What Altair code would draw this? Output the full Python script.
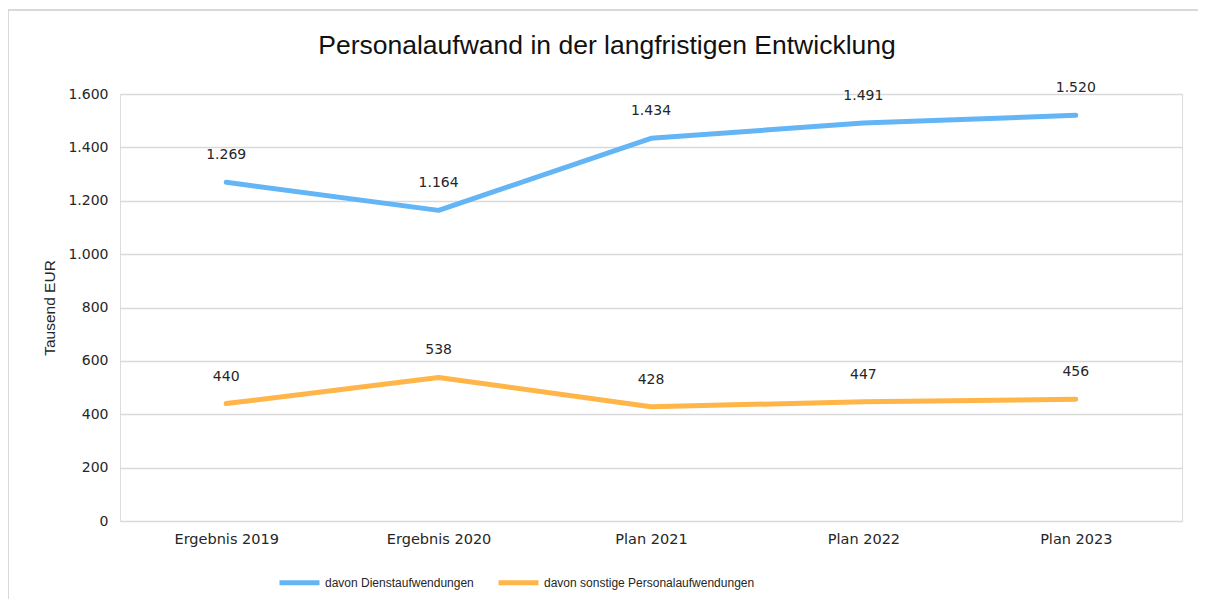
import altair as alt
import pandas as pd

categories = ["Ergebnis 2019", "Ergebnis 2020", "Plan 2021", "Plan 2022", "Plan 2023"]
dienst = [1269, 1164, 1434, 1491, 1520]
sonstige = [440, 538, 428, 447, 456]
series_names = ["davon Dienstaufwendungen", "davon sonstige Personalaufwendungen"]
colors = ["#63b5f6", "#ffb548"]
y_ticks = [0, 200, 400, 600, 800, 1000, 1200, 1400, 1600]

rows = []
for s, vals in zip(series_names, [dienst, sonstige]):
    for c, v in zip(categories, vals):
        rows.append({"Kategorie": c, "Serie": s, "Wert": v})
df = pd.DataFrame(rows)

FONT = "Liberation Sans"
NUMFONT = "DejaVu Sans"
TXT = "#262626"
W, H = 1062, 427

x = alt.X(
    "Kategorie:N",
    sort=categories,
    scale=alt.Scale(type="point", padding=0.5),
    axis=alt.Axis(title=None, labelAngle=0, domain=False, ticks=False, grid=False,
                  labelPadding=11, labelFontSize=14.5, labelColor=TXT, labelFont=NUMFONT),
)
y = alt.Y(
    "Wert:Q",
    scale=alt.Scale(domain=[0, 1600], nice=False),
    axis=alt.Axis(values=y_ticks, title="Tausend EUR",
                  labelExpr="replace(format(datum.value, ','), ',', '.')",
                  domain=False, ticks=False, gridColor="#d9d9d9", gridWidth=1.5,
                  labelPadding=12, labelFontSize=14, labelColor=TXT, labelFont=NUMFONT,
                  titleFont=FONT, titleFontSize=15.5, titleFontWeight="normal",
                  titleColor=TXT, titlePadding=10),
)
color = alt.Color(
    "Serie:N",
    sort=series_names,
    scale=alt.Scale(domain=series_names, range=colors),
    legend=alt.Legend(title=None, orient="none", legendX=157, legendY=466, direction="horizontal",
                      symbolType="stroke", symbolSize=1600, symbolStrokeWidth=5,
                      labelFontSize=12, labelFont=FONT, labelColor=TXT, labelLimit=0,
                      labelOffset=3, columnPadding=14),
)

border_top = alt.Chart(alt.Data(values=[{}])).mark_rule(
    stroke="#d9d9d9", strokeWidth=2
).encode(
    x=alt.value(-112), x2=alt.value(W + 200), y=alt.value(-84)
)
border_left = alt.Chart(alt.Data(values=[{}])).mark_rule(
    stroke="#d9d9d9", strokeWidth=2
).encode(
    x=alt.value(-112), y=alt.value(-85), y2=alt.value(H + 200)
)

lines = alt.Chart(df).mark_line(strokeWidth=5, strokeCap="round", strokeJoin="round").encode(
    x=x, y=y, color=color
)

labels = alt.Chart(df).transform_calculate(
    lab="replace(format(datum.Wert, ','), ',', '.')"
).mark_text(dy=-27, fontSize=14, font=NUMFONT, color=TXT).encode(
    x=alt.X("Kategorie:N", sort=categories, scale=alt.Scale(type="point", padding=0.5)),
    y=alt.Y("Wert:Q"),
    text="lab:N",
)

chart = alt.layer(border_top, border_left, lines, labels).properties(
    width=W, height=H,
    title=alt.TitleParams(
        "Personalaufwand in der langfristigen Entwicklung",
        font=FONT, fontSize=26.5, fontWeight="normal", color="#111111",
        anchor="middle", dx=-44, offset=0, dy=51,
    ),
    autosize=alt.AutoSizeParams(type="none"),
    padding={"left": 112, "top": 86, "right": 16, "bottom": 78},
).configure_view(stroke=None).configure(background="white")

chart.save("out.html", embed_options={"renderer": "svg", "actions": False})
